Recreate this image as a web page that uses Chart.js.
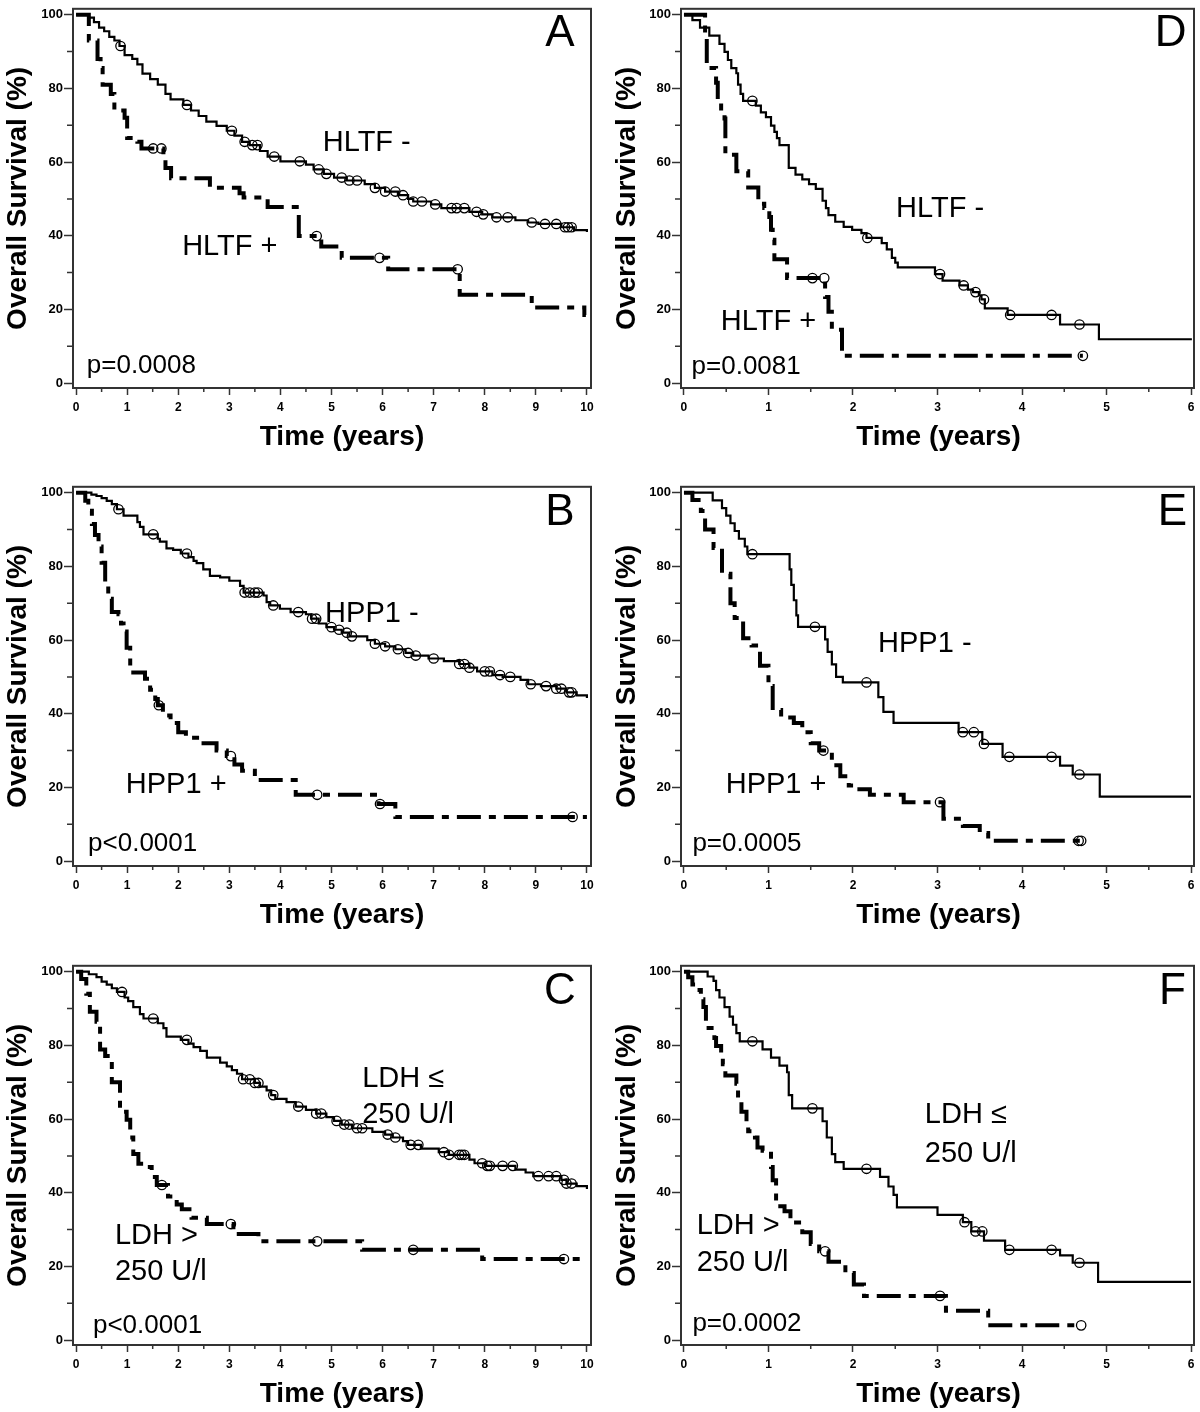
<!DOCTYPE html>
<html lang="en">
<head>
<meta charset="UTF-8">
<title>Overall survival</title>
<script src="https://cdn.jsdelivr.net/npm/chart.js"></script>
<style>
  html, body { margin: 0; padding: 0; background: #fff; overflow: hidden; }
  body { width: 1200px; height: 1412px; position: relative; }
  .panel { position: absolute; width: 600px; height: 470px; }
</style>
</head>
<body>
<div class="panel" style="left:0;top:0"><canvas id="chartA" width="600" height="470"></canvas></div>
<div class="panel" style="left:600px;top:0"><canvas id="chartD" width="600" height="470"></canvas></div>
<div class="panel" style="left:0;top:478px"><canvas id="chartB" width="600" height="470"></canvas></div>
<div class="panel" style="left:600px;top:478px"><canvas id="chartE" width="600" height="470"></canvas></div>
<div class="panel" style="left:0;top:957px"><canvas id="chartC" width="600" height="470"></canvas></div>
<div class="panel" style="left:600px;top:957px"><canvas id="chartF" width="600" height="470"></canvas></div>

<script>
// ticks
const xTicksLong = [0, 1, 2, 3, 4, 5, 6, 7, 8, 9, 10];
const xMinorLong = [0.5, 1.5, 2.5, 3.5, 4.5, 5.5, 6.5, 7.5, 8.5, 9.5];
const xTicksShort = [0, 1, 2, 3, 4, 5, 6];
const xMinorShort = [0.5, 1.5, 2.5, 3.5, 4.5, 5.5];
const yTicks = [0, 20, 40, 60, 80, 100];
const yMinor = [10, 30, 50, 70, 90];

// A - HLTF (time in years, survival in %), step points + censored times
const aNegT = [0, 0.25, 0.35, 0.45, 0.55, 0.65, 0.75, 0.85, 0.95, 1.1, 1.2, 1.3, 1.45, 1.6, 1.75, 1.85, 2.1, 2.25, 2.4, 2.55, 2.75, 2.95, 3.1, 3.25, 3.4, 3.6, 3.75, 4.0, 4.5, 4.65, 4.85, 5.05, 5.3, 5.65, 5.85, 6.05, 6.3, 6.5, 6.6, 6.95, 7.15, 7.7, 7.95, 8.15, 8.6, 8.85, 9.05, 9.5, 9.75, 10];
const aNegS = [100, 99.2, 98, 96.5, 95.5, 94, 93, 91.5, 89, 88, 86.5, 84, 82.5, 81, 78.5, 77, 75.5, 74, 72.5, 71, 69.8, 68.5, 67.2, 65.5, 64.6, 63, 61.5, 60.2, 59.3, 58, 56.8, 55.8, 55, 54, 53, 52, 51, 50, 49.3, 48.5, 47.5, 46.5, 45.8, 45, 44.2, 43.6, 43.2, 42.3, 41.5, 41];
const aNegCens = [0.87, 2.17, 3.05, 3.3, 3.45, 3.55, 3.88, 4.38, 4.75, 4.9, 5.2, 5.35, 5.5, 5.85, 6.05, 6.25, 6.4, 6.6, 6.77, 7.03, 7.35, 7.45, 7.6, 7.84, 7.97, 8.23, 8.45, 8.92, 9.18, 9.4, 9.57, 9.63, 9.7];
const aPosT = [0, 0.25, 0.42, 0.48, 0.52, 0.68, 0.75, 0.95, 1.0, 1.2, 1.28, 1.71, 1.75, 1.86, 2.62, 3.2, 3.28, 3.75, 4.36, 4.8, 5.2, 6.11, 7.51, 8.92, 9.95, 9.98];
const aPosS = [100, 93, 88, 85.5, 81, 78.5, 74, 72, 66.5, 65.5, 63.7, 60.6, 58.4, 55.6, 53, 51.5, 50.4, 47.8, 39.9, 37.1, 34, 30.9, 24, 20.5, 18.5, 18.5];
const aPosCens = [1.51, 1.67, 4.71, 5.94, 7.47];

// B - HPP1
const bNegT = [0, 0.3, 0.4, 0.5, 0.6, 0.7, 0.8, 0.93, 1.2, 1.25, 1.32, 1.6, 1.64, 1.77, 1.9, 2.05, 2.2, 2.3, 2.36, 2.49, 2.62, 2.82, 3.0, 3.21, 3.28, 3.67, 3.73, 3.8, 3.99, 4.2, 4.5, 4.6, 4.75, 4.9, 5.05, 5.2, 5.35, 5.7, 5.85, 6.05, 6.25, 6.45, 6.6, 6.9, 7.2, 7.5, 7.7, 7.85, 8.15, 8.35, 8.7, 8.85, 9.1, 9.4, 9.6, 9.8, 10];
const bNegS = [100, 99.5, 99.1, 98.5, 97.8, 96.9, 95.5, 93.8, 92, 90.7, 88.7, 87.5, 86.7, 84.9, 84.5, 83.5, 82.5, 81.5, 80.9, 79.2, 77.4, 77, 76.1, 74.7, 72.9, 72.1, 70.3, 69.4, 68.5, 67.6, 67, 65.8, 64.5, 63.5, 62.8, 62, 61, 60, 59, 58.3, 57.5, 56.5, 55.8, 55, 54.3, 53.5, 52.5, 51.5, 50.5, 50, 49.2, 48, 47.5, 46.8, 45.8, 45, 44.3];
const bNegCens = [0.83, 1.51, 2.17, 3.3, 3.4, 3.5, 3.56, 3.86, 4.35, 4.62, 4.7, 5.0, 5.15, 5.3, 5.4, 5.85, 6.05, 6.3, 6.5, 6.65, 7.0, 7.5, 7.6, 7.7, 8.0, 8.1, 8.3, 8.5, 8.9, 9.2, 9.4, 9.5, 9.65, 9.7];
const bPosT = [0, 0.18, 0.24, 0.31, 0.37, 0.44, 0.5, 0.57, 0.63, 0.7, 0.83, 0.88, 0.93, 0.99, 1.06, 1.12, 1.35, 1.45, 1.55, 1.6, 1.7, 1.85, 2.0, 2.15, 2.45, 2.75, 2.95, 3.1, 3.25, 3.5, 4.3, 5.92, 6.25, 10];
const bPosS = [100, 97.8, 95.1, 91.5, 88.5, 85.4, 81, 75.6, 71.2, 67.6, 67, 64.5, 62.3, 57.9, 52.6, 51.2, 49.5, 46.5, 44, 42.3, 39.5, 37.5, 35, 33.5, 32, 30, 28.5, 26.2, 24.5, 22, 18, 15.5, 12, 12];
const bPosCens = [1.62, 3.03, 4.72, 5.95, 9.72];

// C - LDH
const cNegT = [0, 0.25, 0.4, 0.5, 0.6, 0.7, 0.8, 0.95, 1.02, 1.12, 1.25, 1.32, 1.6, 1.71, 1.77, 2.05, 2.2, 2.3, 2.43, 2.56, 2.82, 2.95, 3.05, 3.15, 3.25, 3.5, 3.6, 3.73, 3.82, 3.9, 4.12, 4.3, 4.5, 4.7, 4.9, 5.05, 5.2, 5.4, 5.8, 6.05, 6.2, 6.4, 6.5, 6.75, 7.1, 7.3, 7.7, 7.8, 8.0, 8.6, 8.8, 8.95, 9.5, 9.6, 9.8, 10];
const cNegS = [100, 99.3, 98.5, 97.3, 96.5, 95.5, 94.5, 93, 92, 90.4, 88.5, 87.3, 86, 84.7, 82.4, 81.5, 80.5, 79.5, 78.5, 76.7, 75.3, 74.3, 73.3, 72.3, 70.8, 69.8, 68.8, 67.8, 66.5, 65.5, 64.6, 63.4, 62.5, 61.5, 60.5, 59.5, 58.5, 57.5, 56.5, 55.8, 55, 54, 53, 52, 51, 50.3, 49, 48, 47.3, 46.3, 45.5, 44.5, 43.5, 42.5, 41.8, 41];
const cNegCens = [0.9, 1.51, 2.17, 3.27, 3.4, 3.5, 3.57, 3.86, 4.35, 4.7, 4.8, 5.1, 5.25, 5.35, 5.5, 5.6, 6.1, 6.25, 6.55, 6.7, 7.2, 7.3, 7.5, 7.55, 7.6, 7.95, 8.05, 8.1, 8.35, 8.55, 9.05, 9.25, 9.4, 9.55, 9.6, 9.7];
const cPosT = [0, 0.1, 0.2, 0.27, 0.4, 0.47, 0.57, 0.7, 0.86, 0.99, 1.06, 1.12, 1.22, 1.38, 1.48, 1.58, 1.8, 1.97, 2.07, 2.26, 2.56, 3.08, 3.57, 5.6, 7.95, 10];
const cPosS = [100, 98, 94, 89.1, 86.4, 78.9, 77.1, 70, 62, 59.8, 55, 50.5, 47.9, 47, 44.3, 42.1, 39, 36.8, 35.5, 33.2, 31.5, 28.8, 26.8, 24.5, 22, 22];
const cPosCens = [1.68, 3.03, 4.72, 6.6, 9.55];

// D - HLTF
const dNegT = [0, 0.1, 0.19, 0.3, 0.42, 0.48, 0.52, 0.56, 0.62, 0.64, 0.67, 0.7, 0.85, 0.91, 0.97, 1.03, 1.07, 1.1, 1.13, 1.24, 1.32, 1.4, 1.48, 1.56, 1.64, 1.68, 1.71, 1.79, 1.89, 1.99, 2.1, 2.16, 2.34, 2.4, 2.46, 2.5, 2.53, 2.97, 3.06, 3.26, 3.36, 3.42, 3.49, 3.52, 3.56, 3.83, 4.45, 4.91, 6.01];
const dNegS = [100, 98.5, 96.5, 94.3, 92.1, 89.9, 87.7, 85.5, 84.1, 81, 78.5, 76.6, 75.3, 73.5, 72.2, 69.9, 68.2, 66.5, 64.6, 58.4, 56.6, 55.3, 54, 52.7, 49.5, 47.5, 45.6, 43.8, 42.4, 41.6, 40.7, 39.4, 38, 36.3, 34, 32.7, 31.4, 29.6, 27.8, 26.5, 25.4, 24.7, 23.8, 22.7, 20.3, 18.5, 15.9, 11.9, 11.9];
const dNegCens = [0.81, 2.17, 3.03, 3.31, 3.45, 3.55, 3.86, 4.35, 4.68];
const dPosT = [0, 0.25, 0.27, 0.38, 0.4, 0.44, 0.48, 0.49, 0.62, 0.76, 0.88, 0.95, 1.01, 1.03, 1.05, 1.07, 1.22, 1.67, 1.71, 1.75, 1.87, 4.72];
const dPosS = [100, 94.8, 85.5, 81.5, 76.1, 73, 71.8, 62, 57.5, 53.1, 48.7, 47.5, 45.1, 41.6, 38.9, 33.6, 28.5, 23.4, 19.4, 14.5, 7.4, 7.4];
const dPosCens = [1.52, 1.66, 4.72];

// E - HPP1
const eNegT = [0, 0.34, 0.45, 0.5, 0.55, 0.6, 0.65, 0.72, 0.75, 1.25, 1.27, 1.3, 1.33, 1.35, 1.67, 1.7, 1.75, 1.8, 1.88, 2.3, 2.36, 2.48, 3.25, 3.53, 3.77, 4.45, 4.6, 4.92, 6.0];
const eNegS = [100, 97.9, 95.8, 93.8, 91.7, 89.6, 87.5, 85.4, 83.3, 79.2, 75, 70.8, 66.7, 63.6, 60.2, 56.8, 53.4, 50, 48.5, 44.5, 40.5, 37.5, 35, 31.8, 28.3, 25.9, 23.5, 17.5, 17.5];
const eNegCens = [0.81, 1.55, 2.16, 3.3, 3.43, 3.55, 3.85, 4.35, 4.68];
const ePosT = [0, 0.1, 0.2, 0.25, 0.35, 0.45, 0.55, 0.6, 0.7, 0.8, 0.9, 1.0, 1.05, 1.15, 1.3, 1.4, 1.5, 1.6, 1.75, 1.85, 1.95, 2.05, 2.2, 2.6, 3.07, 3.3, 3.5, 3.6, 4.72];
const ePosS = [100, 98, 95, 90, 85, 78, 70, 66, 60.5, 58.5, 53, 47.5, 41, 39, 37.5, 35, 32, 30, 26, 23, 20.5, 19.5, 18, 16, 11.5, 9.5, 7.6, 5.5, 5.5];
const ePosCens = [1.65, 3.03, 4.67, 4.7];

// F - LDH
const fNegT = [0, 0.28, 0.35, 0.38, 0.42, 0.48, 0.54, 0.58, 0.62, 0.66, 0.93, 1.03, 1.13, 1.22, 1.24, 1.28, 1.64, 1.69, 1.75, 1.79, 1.89, 2.32, 2.42, 2.48, 2.52, 3.0, 3.3, 3.4, 3.55, 3.8, 4.45, 4.6, 4.9, 6.0];
const fNegS = [100, 98.7, 97.5, 95, 93, 90.4, 87.8, 85.6, 83.3, 81.1, 78.9, 76.7, 74.5, 72.7, 66.5, 62.9, 59.4, 55, 50.5, 48.3, 46.5, 44.3, 41.7, 39.4, 36, 34, 32, 29.5, 27, 24.5, 23, 21, 15.8, 15.8];
const fNegCens = [0.81, 1.52, 2.16, 3.32, 3.45, 3.53, 3.85, 4.35, 4.68];
const fPosT = [0, 0.05, 0.1, 0.15, 0.2, 0.23, 0.26, 0.36, 0.38, 0.44, 0.46, 0.49, 0.62, 0.64, 0.68, 0.74, 0.76, 0.84, 0.87, 0.93, 1.03, 1.05, 1.09, 1.19, 1.26, 1.4, 1.5, 1.6, 1.71, 1.91, 2.01, 2.13, 3.1, 3.6, 4.7];
const fPosS = [100, 98.5, 96.5, 95, 92.5, 90.4, 84.7, 82, 79.8, 78, 74.9, 71.8, 69.6, 65.6, 62, 59.4, 56.7, 55, 52.3, 51.4, 47, 43.4, 36.3, 35, 31.9, 29.3, 26.1, 24.1, 21.3, 18.2, 15.1, 12, 8, 4, 4];
const fPosCens = [1.67, 3.03, 4.7];

const FONT = '"Liberation Sans", Arial, sans-serif';

// survival level of a step curve at time t
function levelAt(ts, ss, t) {
    let v = ss[0];
    for (let i = 0; i < ts.length; i++) {
        if (ts[i] <= t) v = ss[i];
    }
    return v;
}

// box around the plot, the short minor ticks and the x title
const framePlugin = {
    id: 'frame',
    beforeDatasetsDraw(chart) {
        const { ctx, chartArea: a } = chart;
        const xs = chart.scales.x, ys = chart.scales.y;
        const long = xs.max > 7;
        const minorX = long ? xMinorLong : xMinorShort;
        ctx.save();
        ctx.strokeStyle = '#333';
        ctx.lineWidth = 2;
        ctx.strokeRect(a.left, a.top, a.right - a.left, a.bottom - a.top);
        ctx.lineWidth = 1.5;
        ctx.beginPath();
        yMinor.forEach(v => {
            const p = ys.getPixelForValue(v);
            ctx.moveTo(a.left - 6, p);
            ctx.lineTo(a.left, p);
        });
        minorX.forEach(v => {
            const p = xs.getPixelForValue(v);
            ctx.moveTo(p, a.bottom);
            ctx.lineTo(p, a.bottom + 4);
        });
        ctx.stroke();
        // x axis title (sits a little right of centre in the left column)
        ctx.fillStyle = '#000';
        ctx.font = 'bold 28px ' + FONT;
        ctx.textAlign = 'center';
        ctx.textBaseline = 'middle';
        ctx.fillText('Time (years)', (a.left + a.right) / 2 + (long ? 10 : 1), a.bottom + 49);
        ctx.restore();
    }
};

// free text in data coordinates
function notesPlugin(notes) {
    return {
        id: 'notes',
        afterDatasetsDraw(chart) {
            const ctx = chart.ctx;
            ctx.save();
            ctx.fillStyle = '#000';
            ctx.textBaseline = 'middle';
            notes.forEach(n => {
                ctx.font = n.size + 'px ' + FONT;
                ctx.textAlign = n.align || 'center';
                ctx.fillText(n.text, chart.scales.x.getPixelForValue(n.t), chart.scales.y.getPixelForValue(n.s));
            });
            ctx.restore();
        }
    };
}

function drawPanel(id, side, curves, notes) {
    const long = side === 'left';
    const datasets = [];
    curves.forEach(c => {
        datasets.push({
            data: c.t.map((t, i) => ({ x: t, y: c.s[i] })),
            stepped: 'before',
            borderColor: '#000',
            borderWidth: c.dashed ? 4 : 2.2,
            borderDash: c.dashed ? [24, 8, 7, 8] : [],
            borderCapStyle: 'butt',
            borderJoinStyle: 'miter',
            pointRadius: 0,
            fill: false
        });
        datasets.push({
            data: c.cens.map(t => ({ x: t, y: levelAt(c.t, c.s, t) })),
            showLine: false,
            pointStyle: 'circle',
            pointRadius: 4.7,
            pointBorderWidth: 1.3,
            pointBorderColor: '#000',
            pointBackgroundColor: 'rgba(0,0,0,0)'
        });
    });

    new Chart(document.getElementById(id), {
        type: 'line',
        data: { datasets: datasets },
        options: {
            responsive: false,
            animation: false,
            devicePixelRatio: 1,
            layout: { padding: { left: 0, top: 1, right: long ? 9 : 2, bottom: 0 } },
            plugins: { legend: { display: false }, tooltip: { enabled: false } },
            scales: {
                x: {
                    type: 'linear',
                    min: long ? -0.06 : -0.035,
                    max: long ? 10.08 : 6.035,
                    afterBuildTicks: s => { s.ticks = (long ? xTicksLong : xTicksShort).map(v => ({ value: v })); },
                    afterFit: s => { s.height = 82; },
                    border: { display: false },
                    grid: { drawOnChartArea: false, drawTicks: true, tickLength: 7, tickColor: '#333', tickWidth: 1.5 },
                    ticks: { color: '#000', font: { family: FONT, size: 12, weight: 'bold' }, padding: 5, maxRotation: 0, autoSkip: false },
                    title: { display: false }
                },
                y: {
                    type: 'linear',
                    min: -1.33,
                    max: 101.6,
                    afterBuildTicks: s => { s.ticks = yTicks.map(v => ({ value: v })); },
                    afterFit: s => { s.width = long ? 73 : 81; },
                    border: { display: false },
                    grid: { drawOnChartArea: false, drawTicks: true, tickLength: 9, tickColor: '#333', tickWidth: 1.5 },
                    ticks: { color: '#000', font: { family: FONT, size: 13, weight: 'bold' }, padding: 1 },
                    title: { display: true, text: 'Overall Survival (%)', color: '#000', font: { family: FONT, size: 28, weight: 'bold' }, padding: { top: long ? 1 : 10, bottom: 0 } }
                }
            }
        },
        plugins: [framePlugin, notesPlugin(notes)]
    });
}

drawPanel('chartA', 'left', [
    { t: aNegT, s: aNegS, cens: aNegCens, dashed: false },
    { t: aPosT, s: aPosS, cens: aPosCens, dashed: true }
], [
    { text: 'HLTF -', t: 5.69, s: 65.3, size: 29 },
    { text: 'HLTF +', t: 3.01, s: 37, size: 29 },
    { text: 'p=0.0008', t: 0.21, s: 4.6, size: 26, align: 'left' },
    { text: 'A', t: 9.47, s: 94.9, size: 44 }
]);

drawPanel('chartB', 'left', [
    { t: bNegT, s: bNegS, cens: bNegCens, dashed: false },
    { t: bPosT, s: bPosS, cens: bPosCens, dashed: true }
], [
    { text: 'HPP1 -', t: 5.79, s: 67.2, size: 29 },
    { text: 'HPP1 +', t: 1.96, s: 20.7, size: 29 },
    { text: 'p<0.0001', t: 0.235, s: 4.6, size: 26, align: 'left' },
    { text: 'B', t: 9.47, s: 94.5, size: 44 }
]);

drawPanel('chartC', 'left', [
    { t: cNegT, s: cNegS, cens: cNegCens, dashed: false },
    { t: cPosT, s: cPosS, cens: cPosCens, dashed: true }
], [
    { text: 'LDH \u2264', t: 5.6, s: 71, size: 29, align: 'left' },
    { text: '250 U/l', t: 5.6, s: 61, size: 29, align: 'left' },
    { text: 'LDH >', t: 0.76, s: 28.2, size: 29, align: 'left' },
    { text: '250 U/l', t: 0.76, s: 18.4, size: 29, align: 'left' },
    { text: 'p<0.0001', t: 0.33, s: 3.9, size: 26, align: 'left' },
    { text: 'C', t: 9.47, s: 94.5, size: 44 }
]);

drawPanel('chartD', 'right', [
    { t: dNegT, s: dNegS, cens: dNegCens, dashed: false },
    { t: dPosT, s: dPosS, cens: dPosCens, dashed: true }
], [
    { text: 'HLTF -', t: 3.03, s: 47.3, size: 29 },
    { text: 'HLTF +', t: 1.0, s: 16.5, size: 29 },
    { text: 'p=0.0081', t: 0.09, s: 4.4, size: 26, align: 'left' },
    { text: 'D', t: 5.76, s: 94.9, size: 44 }
]);

drawPanel('chartE', 'right', [
    { t: eNegT, s: eNegS, cens: eNegCens, dashed: false },
    { t: ePosT, s: ePosS, cens: ePosCens, dashed: true }
], [
    { text: 'HPP1 -', t: 2.85, s: 58.8, size: 29 },
    { text: 'HPP1 +', t: 1.09, s: 20.7, size: 29 },
    { text: 'p=0.0005', t: 0.1, s: 4.6, size: 26, align: 'left' },
    { text: 'E', t: 5.78, s: 94.5, size: 44 }
]);

drawPanel('chartF', 'right', [
    { t: fNegT, s: fNegS, cens: fNegCens, dashed: false },
    { t: fPosT, s: fPosS, cens: fPosCens, dashed: true }
], [
    { text: 'LDH \u2264', t: 2.85, s: 61, size: 29, align: 'left' },
    { text: '250 U/l', t: 2.85, s: 50.5, size: 29, align: 'left' },
    { text: 'LDH >', t: 0.15, s: 30.9, size: 29, align: 'left' },
    { text: '250 U/l', t: 0.15, s: 21, size: 29, align: 'left' },
    { text: 'p=0.0002', t: 0.1, s: 4.3, size: 26, align: 'left' },
    { text: 'F', t: 5.78, s: 94.5, size: 44 }
]);
</script>
</body>
</html>
